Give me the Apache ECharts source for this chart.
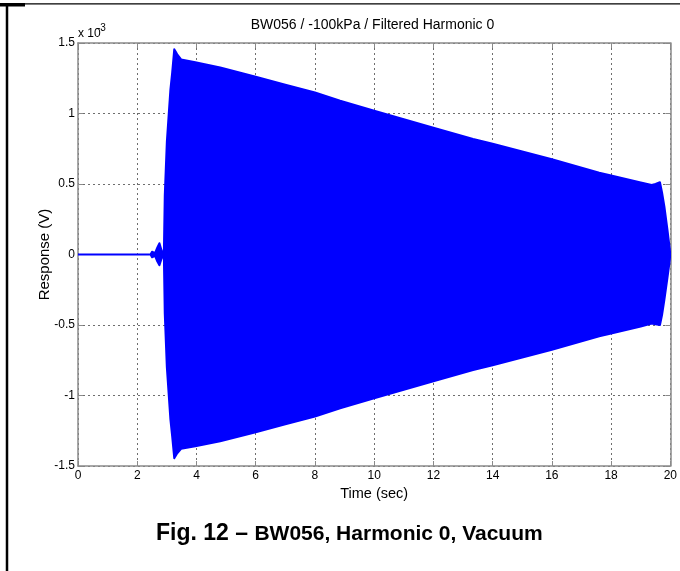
<!DOCTYPE html>
<html>
<head>
<meta charset="utf-8">
<script src="https://cdn.jsdelivr.net/npm/echarts@6/dist/echarts.min.js"></script>
<style>
html,body{margin:0;padding:0;background:#fff;}
#chart{width:680px;height:571px;}
</style>
</head>
<body>
<div id="chart"></div>
<script>
// Envelope of the filtered response (values in units of 1e-3 V)
const time  = [0, 2.45, 2.5, 2.6, 2.68, 2.75, 2.82, 2.87, 2.9, 2.93, 3.0, 3.12, 3.18, 3.25, 3.35, 3.48, 3.96, 4.8, 6, 7, 8, 8.85, 10, 11, 12, 13.34, 14, 15, 16, 17.6, 18, 19, 19.37, 19.5, 19.65, 19.72, 19.8, 19.9, 19.97, 20];
const upper = [0, 0, 0.02, 0.01, 0.05, 0.08, 0.03, 0.01, 0.02, 0.42, 0.80, 1.17, 1.29, 1.455, 1.42, 1.384, 1.363, 1.327, 1.26, 1.205, 1.15, 1.09, 1.02, 0.96, 0.90, 0.82, 0.785, 0.73, 0.675, 0.58, 0.56, 0.51, 0.493, 0.50, 0.512, 0.44, 0.34, 0.18, 0.06, 0];
const lower = [0, 0, -0.02, -0.01, -0.05, -0.076, -0.03, -0.01, -0.02, -0.42, -0.80, -1.17, -1.29, -1.445, -1.41, -1.378, -1.36, -1.325, -1.26, -1.205, -1.15, -1.09, -1.02, -0.96, -0.90, -0.82, -0.785, -0.73, -0.675, -0.58, -0.56, -0.51, -0.49, -0.495, -0.50, -0.43, -0.32, -0.17, -0.06, 0];
const xTicks = [0, 2, 4, 6, 8, 10, 12, 14, 16, 18, 20];
const yTicks = [-1.5, -1, -0.5, 0, 0.5, 1, 1.5];

const titleText = 'BW056 / -100kPa / Filtered Harmonic 0';
const xName = 'Time (sec)';
const yName = 'Response (V)';
const captionA = 'Fig. 12 – ';
const captionB = 'BW056, Harmonic 0, Vacuum';

const FONT = '"Liberation Sans", Arial, Helvetica, sans-serif';
const AXIS_GRAY = '#8a8a8a';
const BLUE = '#0000ff';

const envData = time.map((t, i) => [t, upper[i], lower[i]]);

const xMin = xTicks[0], xMax = xTicks[xTicks.length - 1], xInt = xTicks[1] - xTicks[0];
const yMin = yTicks[0], yMax = yTicks[yTicks.length - 1], yInt = yTicks[1] - yTicks[0];

function boxAxis(extra) {
  return Object.assign({
    type: 'value',
    axisLine: { show: true, onZero: false, lineStyle: { color: AXIS_GRAY, width: 1.5 } },
    axisTick: { show: true, inside: true, length: 5, lineStyle: { color: AXIS_GRAY, width: 1 } },
    axisLabel: { show: false },
    splitLine: { show: false }
  }, extra);
}

// one filled band polygon between the upper and lower envelopes
function renderBand(params, api) {
  if (params.dataIndex !== 0) return null;
  const pts = [];
  for (let i = 0; i < time.length; i++) pts.push(api.coord([time[i], upper[i]]));
  for (let i = time.length - 1; i >= 0; i--) pts.push(api.coord([time[i], lower[i]]));
  return {
    type: 'polygon',
    shape: { points: pts },
    style: { fill: BLUE, stroke: BLUE, lineWidth: 2, lineJoin: 'round' }
  };
}

const chart = echarts.init(document.getElementById('chart'), null, { renderer: 'canvas' });
chart.setOption({
  animation: false,
  backgroundColor: '#fff',
  textStyle: { fontFamily: FONT },
  grid: { left: 78, right: 9, top: 43, bottom: 105, containLabel: false },
  xAxis: [
    {
      type: 'value', min: xMin, max: xMax, interval: xInt,
      position: 'bottom',
      name: xName, nameLocation: 'middle', nameGap: 19,
      nameTextStyle: { color: '#000', fontSize: 14.5, fontFamily: FONT },
      axisLine: { show: true, onZero: false, lineStyle: { color: AXIS_GRAY, width: 1.5 } },
      axisTick: { show: true, inside: true, length: 5, lineStyle: { color: AXIS_GRAY, width: 1 } },
      axisLabel: { color: '#000', fontSize: 12, margin: 4, fontFamily: FONT },
      splitLine: { show: true, lineStyle: { color: '#6e6e6e', width: 1, type: [2, 3] } }
    },
    boxAxis({ min: xMin, max: xMax, interval: xInt, position: 'top' })
  ],
  yAxis: [
    {
      type: 'value', min: yMin, max: yMax, interval: yInt,
      position: 'left',
      name: yName, nameLocation: 'middle', nameGap: 26, nameMoveOverlap: false,
      nameTextStyle: { color: '#000', fontSize: 15, fontFamily: FONT },
      axisLine: { show: true, onZero: false, lineStyle: { color: AXIS_GRAY, width: 1.5 } },
      axisTick: { show: true, inside: true, length: 5, lineStyle: { color: AXIS_GRAY, width: 1 } },
      axisLabel: { color: '#000', fontSize: 12, margin: 3, fontFamily: FONT },
      splitLine: { show: true, lineStyle: { color: '#6e6e6e', width: 1, type: [2, 3] } }
    },
    boxAxis({ min: yMin, max: yMax, interval: yInt, position: 'right' })
  ],
  series: [
    {
      type: 'custom', name: 'response', data: envData,
      xAxisIndex: 0, yAxisIndex: 0,
      encode: { x: 0, y: [1, 2] },
      renderItem: renderBand,
      clip: true,
      z: 3
    }
  ],
  graphic: [
    { type: 'line', shape: { x1: 7, y1: 3, x2: 7, y2: 571 }, style: { stroke: '#000', lineWidth: 2.5 }, silent: true },
    { type: 'line', shape: { x1: 6, y1: 3.8, x2: 680, y2: 3.8 }, style: { stroke: '#000', lineWidth: 1.2 }, silent: true },
    { type: 'rect', shape: { x: 0, y: 3, width: 25, height: 3.5 }, style: { fill: '#000' }, silent: true },
    {
      type: 'text', x: 372.5, y: 25.5,
      style: { text: titleText, fill: '#000', font: '14px ' + FONT, textAlign: 'center', textVerticalAlign: 'middle' },
      silent: true
    },
    {
      type: 'text', x: 78, y: 34,
      style: { text: 'x 10', fill: '#000', font: '12px ' + FONT, textAlign: 'left', textVerticalAlign: 'middle' },
      silent: true
    },
    {
      type: 'text', x: 97, y: 28,
      style: { text: '-3', fill: '#000', font: '10px ' + FONT, textAlign: 'left', textVerticalAlign: 'middle' },
      silent: true
    },
    {
      type: 'text', x: 156, y: 534,
      style: {
        text: '{a|' + captionA + '}{b|' + captionB + '}',
        textAlign: 'left', textVerticalAlign: 'middle',
        rich: {
          a: { fontFamily: FONT, fontWeight: 'bold', fontSize: 23, fill: '#000', color: '#000' },
          b: { fontFamily: FONT, fontWeight: 'bold', fontSize: 21, fill: '#000', color: '#000' }
        }
      },
      silent: true
    }
  ]
});
</script>
</body>
</html>
